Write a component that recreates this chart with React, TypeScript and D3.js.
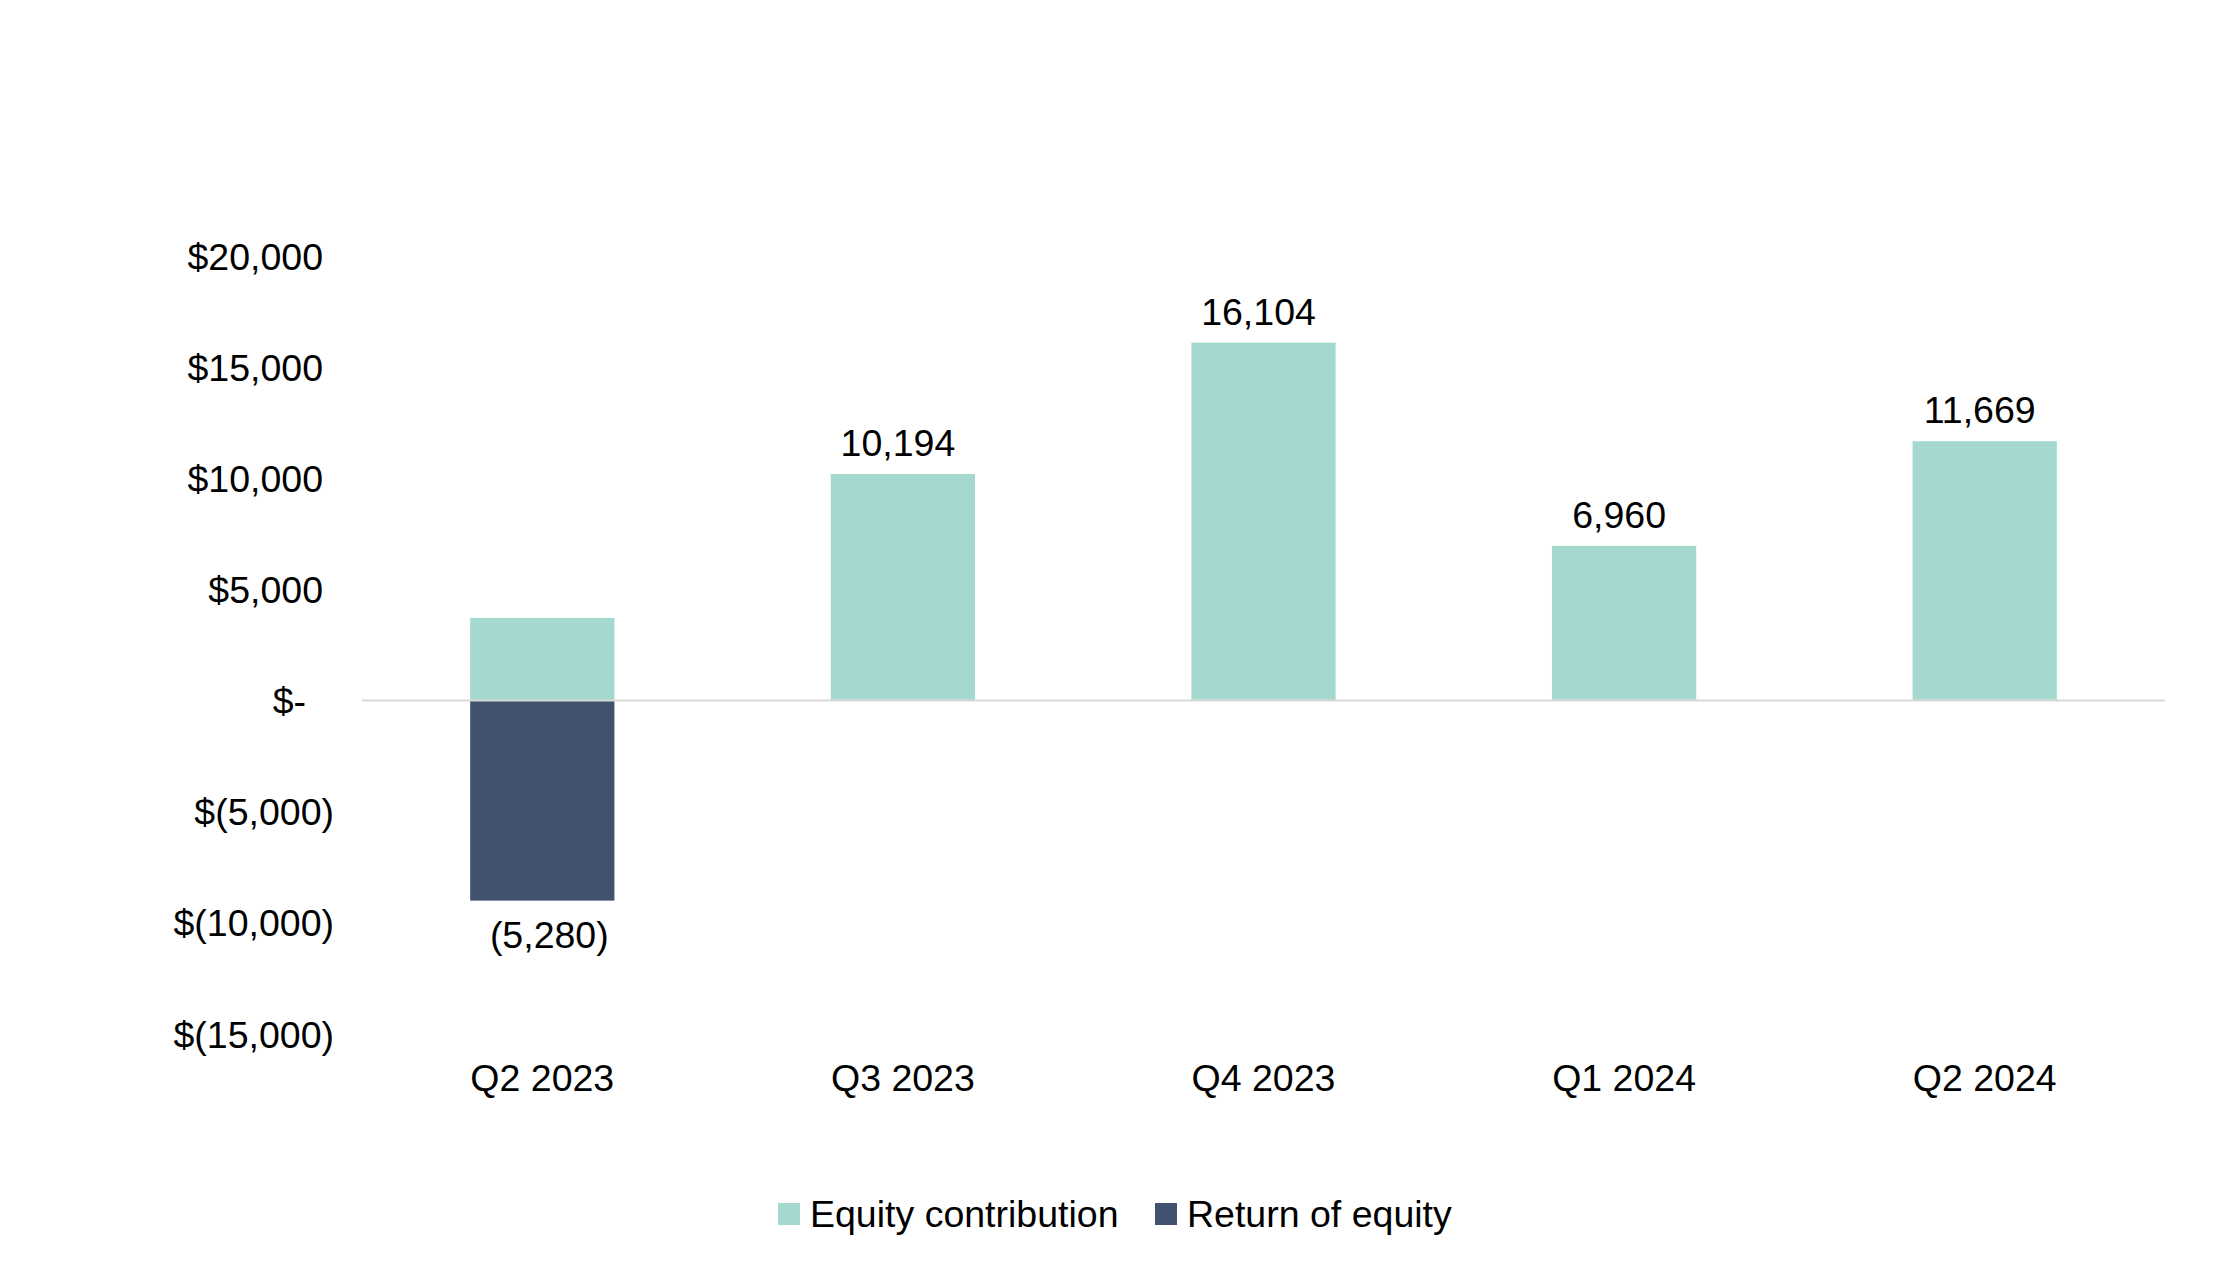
import React, { useRef, useEffect } from "react";
import * as d3 from "d3";

const quarters = ["Q2 2023", "Q3 2023", "Q4 2023", "Q1 2024", "Q2 2024"];
const equityContribution = [3720, 10194, 16104, 6960, 11669];
const returnOfEquity = [-9000, 0, 0, 0, 0];
const dataLabels = ["(5,280)", "10,194", "16,104", "6,960", "11,669"];
const yTicks = [20000, 15000, 10000, 5000, 0, -5000, -10000, -15000];
const seriesNames = ["Equity contribution", "Return of equity"];
const seriesColors = ["#A5D9CF", "#40526F"];

const FONT = "'Liberation Sans', Arial, sans-serif";
const FONT_SIZE = 37.5;

function formatTick(v: number): string {
  if (v === 0) return "$-";
  if (v < 0) return `$(${d3.format(",")(-v)})`;
  return `$${d3.format(",")(v)}`;
}

function drawChart(svgEl: SVGSVGElement, width: number, height: number) {
  const svg = d3.select(svgEl);
  svg.selectAll("*").remove();
  svg.attr("width", width).attr("height", height);

  const plot = { left: 362, right: 2165, top: 256, bottom: 1034 };

  const x = d3
    .scaleBand<string>()
    .domain(quarters)
    .range([plot.left, plot.right])
    .paddingInner(0.6)
    .paddingOuter(0.3);

  const y = d3
    .scaleLinear()
    .domain([-15000, 20000])
    .range([plot.bottom, plot.top]);

  // y axis labels (no line, no ticks)
  const yAxis = svg
    .append("g")
    .attr("transform", "translate(323,0)")
    .call(
      d3
        .axisLeft(y)
        .tickValues(yTicks)
        .tickSize(0)
        .tickPadding(0)
        .tickFormat((d) => formatTick(d as number))
    );
  yAxis.select(".domain").remove();
  yAxis
    .selectAll("text")
    .attr("font-family", FONT)
    .attr("font-size", FONT_SIZE)
    .attr("fill", "#000")
    .attr("dy", "0.35em")
    .attr("x", (d: any) => (d < 0 ? 11 : d === 0 ? -17 : 0));

  // bars
  svg
    .append("g")
    .selectAll("rect")
    .data(quarters)
    .enter()
    .append("rect")
    .attr("x", (d) => x(d) as number)
    .attr("y", (d, i) => y(equityContribution[i]))
    .attr("width", x.bandwidth())
    .attr("height", (d, i) => y(0) - y(equityContribution[i]))
    .attr("fill", seriesColors[0]);

  svg
    .append("g")
    .selectAll("rect")
    .data(quarters.filter((d, i) => returnOfEquity[i] !== 0))
    .enter()
    .append("rect")
    .attr("x", (d) => x(d) as number)
    .attr("y", y(0))
    .attr("width", x.bandwidth())
    .attr("height", (d) => y(returnOfEquity[quarters.indexOf(d)]) - y(0))
    .attr("fill", seriesColors[1]);

  // zero line
  svg
    .append("line")
    .attr("x1", plot.left)
    .attr("x2", plot.right)
    .attr("y1", y(0))
    .attr("y2", y(0))
    .attr("stroke", "#D9D9D9")
    .attr("stroke-width", 2);

  // data labels (accounting format leaves room for ")" on positives)
  svg
    .append("g")
    .selectAll("text")
    .data(quarters)
    .enter()
    .append("text")
    .attr("x", (d, i) => (x(d) as number) + x.bandwidth() / 2 + (returnOfEquity[i] < 0 ? 7 : -5))
    .attr("y", (d, i) =>
      returnOfEquity[i] < 0 ? y(returnOfEquity[i]) + 47 : y(equityContribution[i]) - 18
    )
    .attr("text-anchor", "middle")
    .attr("font-family", FONT)
    .attr("font-size", FONT_SIZE)
    .attr("fill", "#000")
    .text((d, i) => dataLabels[i]);

  // x axis labels
  const xAxis = svg
    .append("g")
    .attr("transform", `translate(0,${plot.bottom + 44})`)
    .call(d3.axisBottom(x).tickSize(0).tickPadding(0));
  xAxis.select(".domain").remove();
  xAxis
    .selectAll("text")
    .attr("font-family", FONT)
    .attr("font-size", FONT_SIZE)
    .attr("fill", "#000")
    .attr("dy", "0.35em");

  // legend
  const legendX = [778, 1155];
  const legend = svg
    .append("g")
    .selectAll("g")
    .data(seriesNames)
    .enter()
    .append("g")
    .attr("transform", (d, i) => `translate(${legendX[i]},1214)`);
  legend
    .append("rect")
    .attr("x", 0)
    .attr("y", -11)
    .attr("width", 22)
    .attr("height", 22)
    .attr("fill", (d, i) => seriesColors[i]);
  legend
    .append("text")
    .attr("x", 32)
    .attr("dy", "0.35em")
    .attr("font-family", FONT)
    .attr("font-size", FONT_SIZE)
    .attr("fill", "#000")
    .text((d) => d);
}

const App: React.FunctionComponent = function () {
  const svgRef = useRef<SVGSVGElement>(null);

  useEffect(() => {
    if (svgRef.current == null) {
      return;
    }
    drawChart(svgRef.current, 2219, 1279);
  }, []);

  return (
    <svg
      ref={svgRef}
      style={{ position: "absolute", left: 0, top: 0, background: "#fff" }}
    ></svg>
  );
};

export default App;
